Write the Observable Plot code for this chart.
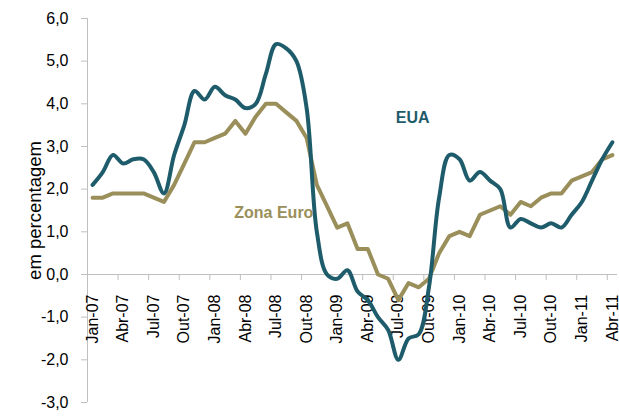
<!DOCTYPE html>
<html><head><meta charset="utf-8">
<script src="https://cdn.jsdelivr.net/npm/d3@7"></script>
<script src="https://cdn.jsdelivr.net/npm/@observablehq/plot@0.6"></script>
<style>
  html,body{margin:0;padding:0;background:#fff;}
  #chart svg{font-family:"Liberation Sans", Arial, sans-serif;overflow:visible;}
</style>
</head><body><div id="chart"></div>
<script>
// Monthly categories Jan-07 .. Abr-11
const categories = [
  "Jan-07","Fev-07","Mar-07","Abr-07","Mai-07","Jun-07","Jul-07","Ago-07","Set-07","Out-07","Nov-07","Dez-07",
  "Jan-08","Fev-08","Mar-08","Abr-08","Mai-08","Jun-08","Jul-08","Ago-08","Set-08","Out-08","Nov-08","Dez-08",
  "Jan-09","Fev-09","Mar-09","Abr-09","Mai-09","Jun-09","Jul-09","Ago-09","Set-09","Out-09","Nov-09","Dez-09",
  "Jan-10","Fev-10","Mar-10","Abr-10","Mai-10","Jun-10","Jul-10","Ago-10","Set-10","Out-10","Nov-10","Dez-10",
  "Jan-11","Fev-11","Mar-11","Abr-11"
];
const eua = [
  2.1,2.4,2.8,2.6,2.7,2.7,2.4,1.9,2.8,3.5,4.3,4.1,
  4.4,4.2,4.1,3.9,4.0,4.7,5.4,5.3,5.0,3.9,1.0,0.0,
  -0.1,0.1,-0.4,-0.6,-1.0,-1.3,-2.0,-1.5,-1.4,-0.3,1.8,2.8,
  2.7,2.2,2.4,2.2,2.0,1.1,1.3,1.2,1.1,1.2,1.1,1.4,
  1.7,2.2,2.7,3.1
];
const zonaEuro = [
  1.8,1.8,1.9,1.9,1.9,1.9,1.8,1.7,2.1,2.6,3.1,3.1,
  3.2,3.3,3.6,3.3,3.7,4.0,4.0,3.8,3.6,3.2,2.1,1.6,
  1.1,1.2,0.6,0.6,0.0,-0.1,-0.6,-0.2,-0.3,-0.1,0.5,0.9,
  1.0,0.9,1.4,1.5,1.6,1.4,1.7,1.6,1.8,1.9,1.9,2.2,
  2.3,2.4,2.7,2.8
];
const tickLabels = ["Jan-07","Abr-07","Jul-07","Out-07","Jan-08","Abr-08","Jul-08","Out-08",
  "Jan-09","Abr-09","Jul-09","Out-09","Jan-10","Abr-10","Jul-10","Out-10","Jan-11","Abr-11"];
const yTicks = [-3,-2,-1,0,1,2,3,4,5,6];

const TEAL = "#1f5c6b";
const OLIVE = "#9a8f5a";
const GRID = "#bfbfbf";

const labelIdx = tickLabels.map(l => categories.indexOf(l));
const tickPos = labelIdx.map(i => i - 0.5);
const fmt = d => d.toFixed(1).replace(".", ",");

const chart = Plot.plot({
  width: 619,
  height: 418,
  marginLeft: 87,
  marginRight: 2,
  marginTop: 18,
  marginBottom: 16,
  x: {type: "linear", domain: [-0.5, categories.length - 0.5], axis: null},
  y: {domain: [-3, 6], axis: null},
  marks: [
    Plot.ruleX([-0.5], {y1: -3, y2: 6, stroke: GRID, strokeWidth: 1}),
    Plot.axisY(yTicks, {tickSize: 6, tickPadding: 13, tickFormat: fmt, stroke: GRID, fill: "#000", fontSize: 16, label: null}),
    Plot.ruleY([0], {x1: -0.5, x2: categories.length - 0.5, stroke: GRID, strokeWidth: 1}),
    Plot.ruleX(tickPos, {y1: () => 0, y2: () => 0, insetBottom: -6, stroke: GRID}),
    Plot.text(tickLabels, {x: (d) => categories.indexOf(d), y: () => 0, text: d => d, rotate: -90, textAnchor: "end", dy: 20, fontSize: 16, fill: "#000"}),
    Plot.text(["em percentagem"], {frameAnchor: "left", textAnchor: "middle", rotate: -90, dx: -52, fontSize: 18.5, fill: "#000"}),
    Plot.line(zonaEuro, {x: (d, i) => i, y: d => d, stroke: OLIVE, strokeWidth: 4, curve: "linear"}),
    Plot.line(eua, {x: (d, i) => i, y: d => d, stroke: TEAL, strokeWidth: 4, curve: "catmull-rom"}),
    Plot.text(["EUA"], {x: () => 31.4, y: () => 3.68, fill: TEAL, fontWeight: "bold", fontSize: 16}),
    Plot.text(["Zona Euro"], {x: () => 13.9, y: () => 1.45, textAnchor: "start", fill: OLIVE, fontWeight: "bold", fontSize: 16})
  ]
});
document.getElementById("chart").appendChild(chart);
</script>
</body></html>
